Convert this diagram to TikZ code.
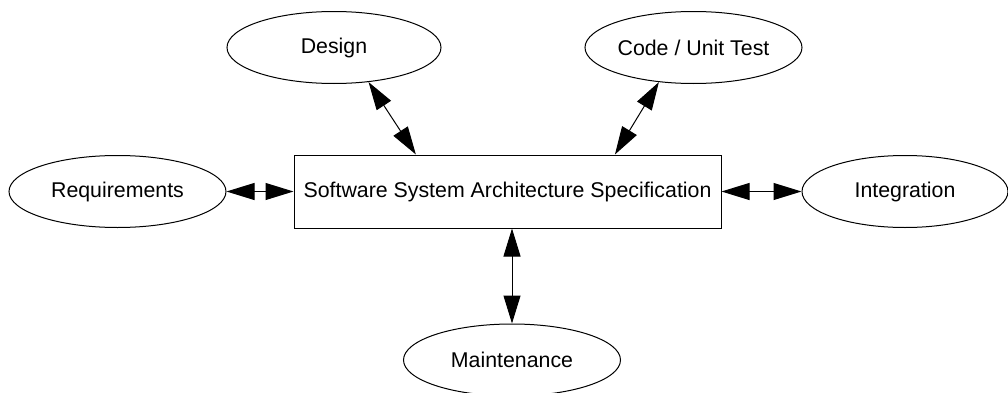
\documentclass[tikz,border=0pt]{standalone}
\usepackage{fontspec}
\setmainfont{Liberation Sans}
\usetikzlibrary{shapes.geometric,arrows.meta}
\begin{document}
\begin{tikzpicture}[x=0.75pt,y=-0.75pt,
  phase/.style={draw, line width=0.75pt, ellipse, inner sep=0pt,
    minimum width=217*0.75pt, minimum height=72*0.75pt, font=\fontsize{16pt}{19pt}\selectfont},
  spec/.style={draw, line width=0.75pt, rectangle, inner sep=0pt,
    minimum width=427*0.75pt, minimum height=73*0.75pt, font=\fontsize{16pt}{19pt}\selectfont},
  link/.style={line width=0.75pt, {Triangle[length=21pt,width=12.75pt]}-{Triangle[length=21pt,width=12.75pt]}}]
\useasboundingbox (0,0) rectangle (1008,393);
\node[spec] (arch) at (507.5,191.5) {Software System Architecture Specification};
\node[phase] (req) at (117.5,191.5) {Requirements};
\node[phase, minimum width=206*0.75pt] (integ) at (905,191.5) {Integration};
\node[phase, minimum width=214*0.75pt] (design) at (334,47.5) {Design};
\node[phase] (code) at (693.5,47.5) {Code / Unit Test};
\node[phase] (maint) at (512,360) {Maintenance};
\draw[link] (req.east) -- (arch.west);
\draw[link] (arch.east) -- (integ.west);
\draw[link] (design.315) -- (arch.158);
\draw[link] (code.225) -- (arch.19.6);
\draw[link] (maint.north |- arch.south) -- (maint.north);
\end{tikzpicture}
\end{document}
